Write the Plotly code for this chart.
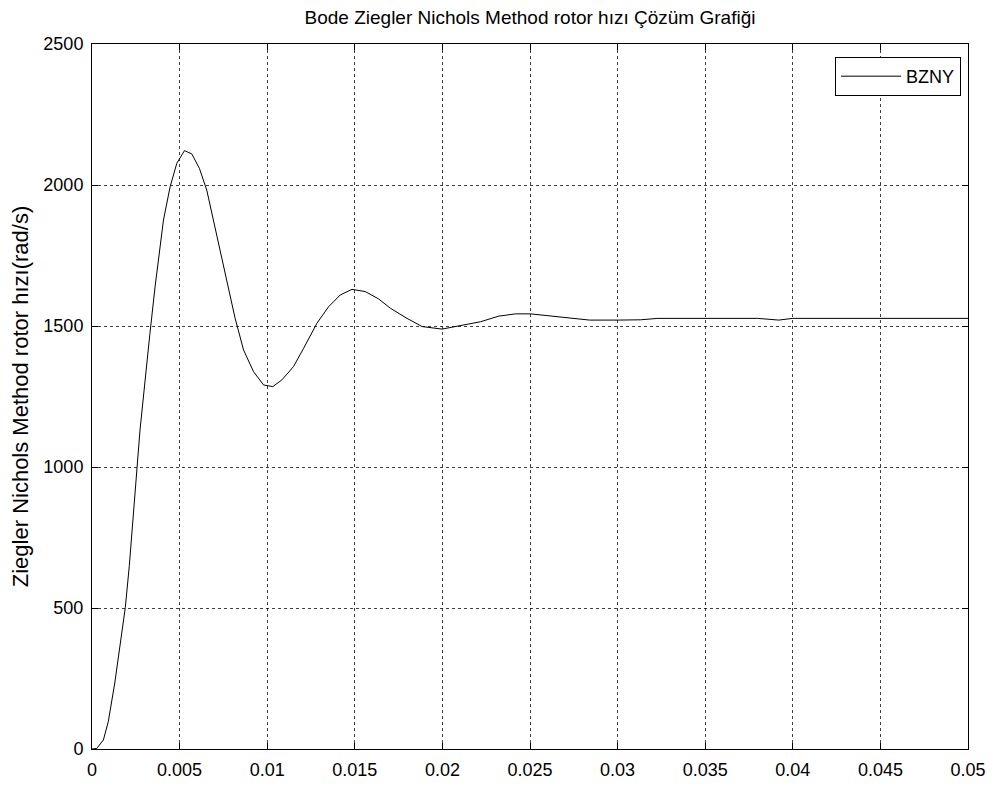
import plotly.graph_objects as go

time_s = [0, 0.00027, 0.00065, 0.00093, 0.0013, 0.0019, 0.00213, 0.00255, 0.00274, 0.0033,
          0.0036, 0.00408, 0.00446, 0.00484, 0.00528, 0.0057, 0.00613, 0.00655, 0.00713, 0.0077,
          0.00817, 0.00865, 0.00922, 0.00979, 0.01032, 0.01084, 0.0115, 0.01208, 0.01284, 0.0135,
          0.01417, 0.01484, 0.0156, 0.01636, 0.01703, 0.01798, 0.01884, 0.01998, 0.02122, 0.02217,
          0.02322, 0.02417, 0.02503, 0.02617, 0.0272, 0.0284, 0.0300, 0.0313, 0.0323, 0.0350,
          0.0380, 0.0392, 0.0400, 0.0500]
speed = [0, 2, 32, 97, 234, 501, 650, 1001, 1131, 1470,
         1639, 1876, 1994, 2077, 2122, 2110, 2059, 1982, 1817, 1663,
         1527, 1415, 1338, 1291, 1285, 1309, 1356, 1421, 1510, 1568,
         1610, 1630, 1622, 1596, 1563, 1527, 1498, 1489, 1504, 1515,
         1535, 1543, 1543, 1535, 1528, 1521, 1521, 1522, 1527, 1527,
         1527, 1521, 1527, 1527]

x_ticks = [0, 0.005, 0.01, 0.015, 0.02, 0.025, 0.03, 0.035, 0.04, 0.045, 0.05]
x_tick_labels = ["0", "0.005", "0.01", "0.015", "0.02", "0.025", "0.03", "0.035", "0.04", "0.045", "0.05"]
y_ticks = [0, 500, 1000, 1500, 2000, 2500]
y_tick_labels = ["0", "500", "1000", "1500", "2000", "2500"]

title_text = "Bode Ziegler Nichols Method rotor hızı Çözüm Grafiği"
y_label = "Ziegler Nichols Method rotor hızı(rad/s)"
series_name = "BZNY"

FONT = "Liberation Sans, Arial, sans-serif"

fig = go.Figure()
fig.add_trace(go.Scatter(x=time_s, y=speed, mode="lines", name=series_name,
                         line=dict(color="black", width=1)))

axis_common = dict(showline=True, linecolor="black", linewidth=1, mirror="ticks",
                   ticks="inside", ticklen=6, tickcolor="black",
                   showgrid=True, gridcolor="rgba(0,0,0,0.75)", griddash="dot", gridwidth=1,
                   zeroline=False, tickfont=dict(family=FONT, size=18, color="black"))

fig.update_xaxes(range=[0, 0.05], tickvals=x_ticks, ticktext=x_tick_labels,
                 ticklabelstandoff=4, **axis_common)
fig.update_yaxes(range=[0, 2500], tickvals=y_ticks, ticktext=y_tick_labels,
                 ticklabelstandoff=4,
                 title=dict(text=y_label, font=dict(family=FONT, size=22, color="black"), standoff=14),
                 **axis_common)

# page body has an 8px margin, so the figure is sized/offset to compensate
fig.update_layout(
    width=987, height=779,
    paper_bgcolor="white", plot_bgcolor="white",
    margin=dict(l=84, r=27, t=36, b=38, autoexpand=False),
    title=dict(text=title_text, x=(530 - 8) / 987, xanchor="center", y=1 - 9 / 779, yanchor="middle",
               font=dict(family=FONT, size=19, color="black")),
    showlegend=True,
    legend=dict(x=0.992, xanchor="right", y=0.9816, yanchor="top",
                bordercolor="black", borderwidth=1, bgcolor="white",
                font=dict(family=FONT, size=18, color="black"), itemwidth=60),
)

fig.write_html("out.html")
